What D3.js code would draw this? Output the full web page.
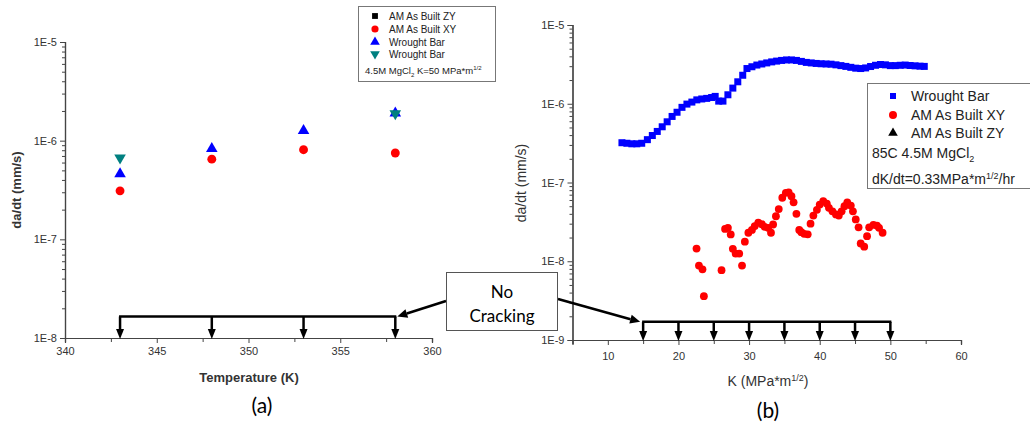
<!DOCTYPE html>
<html><head><meta charset="utf-8">
<script src="https://cdn.jsdelivr.net/npm/d3@7/dist/d3.min.js"></script>
<style>body{margin:0;background:#fff}svg{display:block}</style>
</head><body>
<script>
// ---------- Panel (a) data ----------
const tempsA = [343, 348, 353, 358];
const amXY_A = [3.1e-7, 6.5e-7, 8.1e-7, 7.5e-7];
const wroughtUp_A = [4.6e-7, 8.3e-7, 1.26e-6, 1.9e-6];
const tempsTeal = [343, 358];
const wroughtDown_A = [6.7e-7, 1.88e-6];
const noCrackTempsA = [343, 348, 353, 358];
const noCrackLevelA = 1.65e-8;
const xTicksA = [340, 345, 350, 355, 360];
const yTicksA = [1e-8, 1e-7, 1e-6, 1e-5];

// ---------- Panel (b) data ----------
const wbK = [12.0,12.7,13.4,14.1,14.8,15.6,16.3,17.0,17.7,18.4,19.1,19.8,20.5,21.2,21.9,22.6,23.3,24.0,24.7,25.2,25.7,26.3,27.0,27.7,28.4,29.1,29.7,30.4,31.1,31.8,32.5,33.2,33.9,34.6,35.3,36.0,36.7,37.4,38.1,38.8,39.5,40.2,40.9,41.6,42.3,43.0,43.7,44.4,45.1,45.8,46.5,47.2,47.9,48.6,49.3,50.0,50.7,51.4,52.1,52.8,53.5,54.2,54.8];
const wbRate = [3.2e-7,3.15e-7,3.1e-7,3.1e-7,3.15e-7,3.5e-7,3.95e-7,4.45e-7,5.1e-7,5.9e-7,6.9e-7,7.8e-7,9.0e-7,9.9e-7,1.05e-6,1.12e-6,1.15e-6,1.17e-6,1.2e-6,1.24e-6,1.08e-6,1.08e-6,1.3e-6,1.58e-6,1.9e-6,2.3e-6,2.8e-6,2.95e-6,3.1e-6,3.2e-6,3.3e-6,3.4e-6,3.48e-6,3.55e-6,3.6e-6,3.6e-6,3.55e-6,3.45e-6,3.35e-6,3.3e-6,3.25e-6,3.22e-6,3.2e-6,3.18e-6,3.12e-6,3.05e-6,2.98e-6,2.9e-6,2.83e-6,2.8e-6,2.85e-6,2.97e-6,3.08e-6,3.15e-6,3.12e-6,3.05e-6,3.05e-6,3.08e-6,3.1e-6,3.06e-6,3.03e-6,3.0e-6,2.98e-6];
const xyK = [22.56,22.9,23.4,23.6,26.1,26.6,27.0,27.4,27.7,28.1,28.6,29.0,29.4,29.9,30.4,30.8,31.3,31.8,32.2,32.7,33.1,33.4,33.8,34.2,34.7,35.2,35.6,36.0,36.3,36.7,37.1,37.4,37.8,38.3,38.7,39.1,39.6,40.0,40.5,41.0,41.3,41.8,42.3,42.7,43.1,43.5,43.9,44.4,44.7,45.1,45.5,45.8,46.3,46.7,47.0,47.6,48.1,48.4,48.9];
const xyRate = [1.45e-8,8.8e-9,7.9e-9,3.6e-9,7.7e-9,2.57e-8,2.66e-8,2.19e-8,1.44e-8,1.25e-8,1.25e-8,8.8e-9,1.77e-8,2.3e-8,2.5e-8,2.8e-8,3.1e-8,2.95e-8,2.74e-8,2.66e-8,2.3e-8,2.93e-8,3.73e-8,4.6e-8,6.4e-8,7.4e-8,7.5e-8,6.7e-8,5.6e-8,4.0e-8,2.5e-8,2.34e-8,2.23e-8,2.2e-8,3.0e-8,3.8e-8,4.5e-8,5.25e-8,5.8e-8,5.4e-8,4.77e-8,4.3e-8,3.93e-8,3.8e-8,4.3e-8,5.0e-8,5.6e-8,5.1e-8,4.3e-8,3.4e-8,2.7e-8,1.68e-8,1.53e-8,2.08e-8,2.7e-8,2.9e-8,2.84e-8,2.66e-8,2.3e-8];
const noCrackKB = [15, 20, 25, 30, 35, 40, 45, 50];
const noCrackLevelB = 1.7e-9;
const xTicksB = [10, 20, 30, 40, 50, 60];
const xMinorB = [5, 15, 25, 35, 45, 55];
const yTicksB = [1e-9, 1e-8, 1e-7, 1e-6, 1e-5];

const legendA = ["AM As Built ZY", "AM As Built XY", "Wrought Bar", "Wrought Bar"];
const legendB = ["Wrought Bar", "AM As Built XY", "AM As Built ZY"];

const W = 1030, H = 426;
const svg = d3.select("body").append("svg").attr("width", W).attr("height", H);
const AX = "#444", TXT = "#333", FONT = "'Liberation Sans', Arial, sans-serif";
const CAL = "Lato, 'Open Sans', sans-serif";

function fmtE(v){ return "1E" + Math.round(Math.log10(v)); }
function logMinor(domain){
  const out = [];
  const e0 = Math.round(Math.log10(domain[0])), e1 = Math.round(Math.log10(domain[1]));
  for (let e = e0; e < e1; e++) for (let m = 2; m <= 9; m++) out.push(m * Math.pow(10, e));
  return out;
}
function styleAxis(g){
  g.select(".domain").attr("stroke", AX).attr("stroke-width", 1.2);
  g.selectAll(".tick line").attr("stroke", AX).attr("stroke-width", 1);
  g.selectAll(".tick text").attr("fill", TXT).attr("font-family", FONT);
}
function arrowDown(g, x, y1, y2){
  g.append("line").attr("x1", x).attr("x2", x).attr("y1", y1).attr("y2", y2 - 8)
    .attr("stroke", "#000").attr("stroke-width", 2.5);
  g.append("path").attr("d", `M${x-4},${y2-10}L${x+4},${y2-10}L${x},${y2}Z`).attr("fill", "#000");
}
function arrowLine(g, x1, y1, x2, y2){
  const a = Math.atan2(y2 - y1, x2 - x1), L = 10, w = 4.5;
  const bx = x2 - L*Math.cos(a), by = y2 - L*Math.sin(a);
  g.append("line").attr("x1", x1).attr("y1", y1).attr("x2", bx).attr("y2", by)
    .attr("stroke", "#000").attr("stroke-width", 2.5);
  g.append("path").attr("d", `M${x2},${y2}L${bx - w*Math.sin(a)},${by + w*Math.cos(a)}L${bx + w*Math.sin(a)},${by - w*Math.cos(a)}Z`).attr("fill", "#000");
}

// ================= Panel (a) =================
const xA = d3.scaleLinear().domain([340, 360]).range([65, 432]);
const yA = d3.scaleLog().domain([1e-8, 1e-5]).range([338, 42]);
const gA = svg.append("g");

gA.append("g").attr("transform", `translate(0,${yA.range()[0]})`)
  .call(d3.axisBottom(xA).tickValues(d3.range(342.5, 360, 5)).tickSize(4).tickFormat(""))
  .call(styleAxis);
gA.append("g").attr("transform", `translate(0,${yA.range()[0]})`)
  .call(d3.axisBottom(xA).tickValues(xTicksA).tickSize(5).tickPadding(4).tickFormat(d3.format("d")))
  .call(styleAxis).selectAll(".tick text").attr("font-size", 11);
gA.append("g").attr("transform", `translate(${xA.range()[0]},0)`)
  .call(d3.axisLeft(yA).tickValues(logMinor(yA.domain())).tickSize(3).tickFormat(""))
  .call(styleAxis);
gA.append("g").attr("transform", `translate(${xA.range()[0]},0)`)
  .call(d3.axisLeft(yA).tickValues(yTicksA).tickSize(5).tickPadding(3).tickFormat(fmtE))
  .call(styleAxis).selectAll(".tick text").attr("font-size", 11);

gA.append("text").attr("transform", `translate(21,190) rotate(-90)`).attr("text-anchor", "middle")
  .attr("font-family", FONT).attr("font-size", 13).attr("font-weight", "bold").attr("fill", TXT).text("da/dt (mm/s)");
gA.append("text").attr("x", 249).attr("y", 382).attr("text-anchor", "middle")
  .attr("font-family", FONT).attr("font-size", 13).attr("font-weight", "bold").attr("fill", TXT).text("Temperature (K)");
gA.append("text").attr("x", 262).attr("y", 413).attr("text-anchor", "middle")
  .attr("font-family", CAL).attr("font-size", 21).attr("fill", "#000").text("(a)");

const triUp = d3.symbol().type(d3.symbolTriangle).size(58);
const circA = d3.symbol().type(d3.symbolCircle).size(62);
gA.selectAll(".xyA").data(tempsA).join("path")
  .attr("d", circA).attr("fill", "#ff0000")
  .attr("transform", (d, i) => `translate(${xA(d)},${yA(amXY_A[i])})`);
gA.selectAll(".wbA").data(tempsA).join("path")
  .attr("d", triUp).attr("fill", "#0000ff")
  .attr("transform", (d, i) => `translate(${xA(d)},${yA(wroughtUp_A[i])})`);
gA.selectAll(".wdA").data(tempsTeal).join("path")
  .attr("d", triUp).attr("fill", "#008080")
  .attr("transform", (d, i) => `translate(${xA(d)},${yA(wroughtDown_A[i])}) rotate(180)`);

// no-cracking bracket (a)
const yBrA = yA(noCrackLevelA);
gA.append("line").attr("x1", xA(d3.min(noCrackTempsA)) - 1).attr("x2", xA(d3.max(noCrackTempsA)) + 1)
  .attr("y1", yBrA).attr("y2", yBrA).attr("stroke", "#000").attr("stroke-width", 2.5);
noCrackTempsA.forEach(t => arrowDown(gA, xA(t), yBrA, yA.range()[0] + 1));

// legend (a)
const lgA = gA.append("g");
lgA.append("rect").attr("x", 358.5).attr("y", 6.5).attr("width", 137).attr("height", 75)
  .attr("fill", "#fff").attr("stroke", "#777").attr("stroke-width", 1);
const lgAy = [16, 29, 42, 54];
const lgAsym = [
  {s: d3.symbol().type(d3.symbolSquare).size(34), c: "#000", r: 0},
  {s: d3.symbol().type(d3.symbolCircle).size(40), c: "#ff0000", r: 0},
  {s: d3.symbol().type(d3.symbolTriangle).size(40), c: "#0000ff", r: 0},
  {s: d3.symbol().type(d3.symbolTriangle).size(40), c: "#008080", r: 180}];
legendA.forEach((t, i) => {
  lgA.append("path").attr("d", lgAsym[i].s).attr("fill", lgAsym[i].c)
    .attr("transform", `translate(375,${lgAy[i]}) rotate(${lgAsym[i].r})`);
  lgA.append("text").attr("x", 389).attr("y", lgAy[i] + 3.5).attr("font-family", FONT)
    .attr("font-size", 10).attr("fill", "#222").text(t);
});
const nA = lgA.append("text").attr("x", 365).attr("y", 74).attr("font-family", FONT)
  .attr("font-size", 9.5).attr("fill", "#222");
nA.append("tspan").text("4.5M MgCl");
nA.append("tspan").attr("dy", 3).attr("font-size", 6).text("2");
nA.append("tspan").attr("dy", -3).text(" K=50 MPa*m");
nA.append("tspan").attr("dy", -4).attr("font-size", 6).text("1/2");

// ================= Panel (b) =================
const xB = d3.scaleLinear().domain([5, 60]).range([572.5, 961]);
const yB = d3.scaleLog().domain([1e-9, 1e-5]).range([340, 25]);
const gB = svg.append("g");

gB.append("g").attr("transform", `translate(0,${yB.range()[0]})`)
  .call(d3.axisBottom(xB).tickValues(xMinorB).tickSize(4).tickFormat(""))
  .call(styleAxis);
gB.append("g").attr("transform", `translate(0,${yB.range()[0]})`)
  .call(d3.axisBottom(xB).tickValues(xTicksB).tickSize(5).tickPadding(7).tickFormat(d3.format("d")))
  .call(styleAxis).selectAll(".tick text").attr("font-size", 11);
gB.append("g").attr("transform", `translate(${xB.range()[0]},0)`)
  .call(d3.axisLeft(yB).tickValues(logMinor(yB.domain())).tickSize(3).tickFormat(""))
  .call(styleAxis);
gB.append("g").attr("transform", `translate(${xB.range()[0]},0)`)
  .call(d3.axisLeft(yB).tickValues(yTicksB).tickSize(5).tickPadding(3).tickFormat(fmtE))
  .call(styleAxis).selectAll(".tick text").attr("font-size", 11);

gB.append("text").attr("transform", `translate(526,183) rotate(-90)`).attr("text-anchor", "middle")
  .attr("font-family", FONT).attr("font-size", 14).attr("fill", TXT).text("da/dt (mm/s)");
const xtB = gB.append("text").attr("x", 768).attr("y", 386).attr("text-anchor", "middle")
  .attr("font-family", FONT).attr("font-size", 14).attr("fill", TXT);
xtB.append("tspan").text("K (MPa*m");
xtB.append("tspan").attr("dy", -5).attr("font-size", 9).text("1/2");
xtB.append("tspan").attr("dy", 5).text(")");
gB.append("text").attr("x", 768).attr("y", 418).attr("text-anchor", "middle")
  .attr("font-family", CAL).attr("font-size", 21).attr("fill", "#000").text("(b)");

gB.selectAll(".wbB").data(wbK).join("rect")
  .attr("x", (d) => xB(d) - 3.5).attr("y", (d, i) => yB(wbRate[i]) - 3.5)
  .attr("width", 7).attr("height", 7).attr("fill", "#0000ff");
gB.selectAll(".xyB").data(xyK).join("circle")
  .attr("cx", d => xB(d)).attr("cy", (d, i) => yB(xyRate[i])).attr("r", 3.9).attr("fill", "#ff0000");

// no-cracking bracket (b)
const yBrB = yB(noCrackLevelB);
gB.append("line").attr("x1", xB(d3.min(noCrackKB)) - 1).attr("x2", xB(d3.max(noCrackKB)) + 1)
  .attr("y1", yBrB).attr("y2", yBrB).attr("stroke", "#000").attr("stroke-width", 2.5);
noCrackKB.forEach(k => arrowDown(gB, xB(k), yBrB, yB.range()[0] + 1));

// legend (b)
const lgB = gB.append("g");
lgB.append("rect").attr("x", 867.5).attr("y", 83.5).attr("width", 170).attr("height", 105)
  .attr("fill", "#fff").attr("stroke", "#777").attr("stroke-width", 1);
const lgBy = [96, 115, 133];
const lgBsym = [
  d3.symbol().type(d3.symbolSquare).size(36),
  d3.symbol().type(d3.symbolCircle).size(50),
  d3.symbol().type(d3.symbolTriangle).size(40)];
const lgBcol = ["#0000ff", "#ff0000", "#000"];
legendB.forEach((t, i) => {
  lgB.append("path").attr("d", lgBsym[i]).attr("fill", lgBcol[i])
    .attr("transform", `translate(893,${lgBy[i]})`);
  lgB.append("text").attr("x", 911).attr("y", lgBy[i] + 5).attr("font-family", FONT)
    .attr("font-size", 14).attr("fill", "#222").text(t);
});
const nB1 = lgB.append("text").attr("x", 872).attr("y", 158).attr("font-family", FONT)
  .attr("font-size", 14).attr("fill", "#222");
nB1.append("tspan").text("85C 4.5M MgCl");
nB1.append("tspan").attr("dy", 4).attr("font-size", 9).text("2");
const nB2 = lgB.append("text").attr("x", 872).attr("y", 184).attr("font-family", FONT)
  .attr("font-size", 14).attr("fill", "#222");
nB2.append("tspan").text("dK/dt=0.33MPa*m");
nB2.append("tspan").attr("dy", -5).attr("font-size", 9).text("1/2");
nB2.append("tspan").attr("dy", 5).text("/hr");

// ================= "No Cracking" callout =================
const gC = svg.append("g");
arrowLine(gC, 446, 301, xA(d3.max(noCrackTempsA)) + 2, yBrA);
arrowLine(gC, 558, 299, xB(d3.min(noCrackKB)) - 3, yBrB);
gC.append("rect").attr("x", 446.5).attr("y", 272.5).attr("width", 111).attr("height", 58)
  .attr("fill", "#fff").attr("stroke", "#555").attr("stroke-width", 1);
gC.append("text").attr("x", 502).attr("y", 298).attr("text-anchor", "middle")
  .attr("font-family", CAL).attr("font-size", 17).attr("fill", "#000").text("No");
gC.append("text").attr("x", 502).attr("y", 322).attr("text-anchor", "middle")
  .attr("font-family", CAL).attr("font-size", 17).attr("fill", "#000").text("Cracking");
</script>
</body></html>
